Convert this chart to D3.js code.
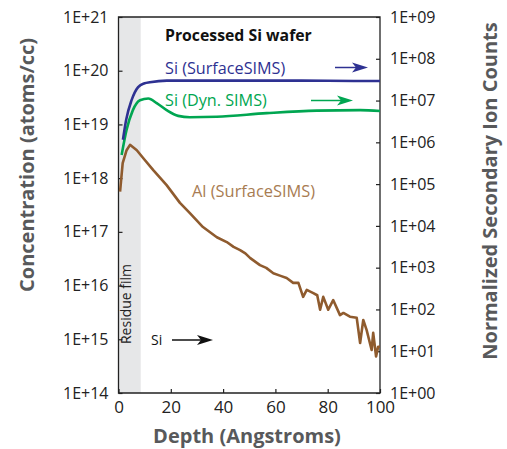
<!DOCTYPE html>
<html>
<head>
<meta charset="utf-8">
<script src="https://cdn.jsdelivr.net/npm/d3@7"></script>
<style>
  body { margin: 0; background: #fff; }
  text { font-family: "Open Sans", Lato, sans-serif; }
</style>
</head>
<body>
<svg width="507" height="449"></svg>
<script>
// ---- data ----
// Si (SurfaceSIMS), right axis (counts)
const siSurfDepth = [1.7, 2.9, 5.0, 7.5, 10, 12, 18.5, 30, 50, 70, 90, 100];
const siSurfCounts = [1.15e6, 3.4e6, 1.02e7, 2.1e7, 2.6e7, 2.75e7, 3.0e7, 3.0e7, 3.0e7, 3.0e7, 2.95e7, 2.95e7];

// Si (Dyn. SIMS), right axis (counts)
const siDynDepth = [1.2, 3.1, 5.5, 8.2, 11.4, 14.6, 18.4, 22.8, 27.3, 37.6, 56.7, 75.8, 92.4, 100];
const siDynCounts = [5.0e5, 2.0e6, 5.9e6, 1.02e7, 1.12e7, 8.7e6, 5.9e6, 4.3e6, 4.0e6, 4.1e6, 5.0e6, 5.75e6, 5.9e6, 5.6e6];

// Al (SurfaceSIMS), left axis (atoms/cc), log10 values
const alDepth = [0.6, 1.6, 3.1, 4.4, 7.0, 9.5, 13.3, 18.4, 23.5, 27.3, 32.3, 37.6, 41.4, 44.0, 46.5, 48.5, 50.4, 54.1, 56.5, 59.2,
  62.0, 64.3, 66.8, 68.8, 70.6, 72.0, 74.5, 76.0, 77.1, 78.3, 80.2, 82.1, 84.7, 86.0, 88.5, 91.1, 92.4, 93.6, 94.9, 96.8, 97.4, 98.5, 99.3, 100];
const alLog = [17.75, 18.28, 18.52, 18.62, 18.52, 18.37, 18.15, 17.87, 17.54, 17.35, 17.09, 16.90, 16.81, 16.72, 16.66, 16.60, 16.51, 16.38, 16.33, 16.23,
  16.18, 16.14, 16.05, 16.05, 15.79, 15.92, 15.86, 15.82, 15.55, 15.79, 15.55, 15.73, 15.45, 15.49, 15.42, 15.40, 14.93, 15.36, 15.17, 14.80, 15.12, 14.68, 14.86, 14.86];

const depthTicks = [0, 20, 40, 60, 80, 100];
const leftExps = [14, 15, 16, 17, 18, 19, 20, 21];
const rightExps = [0, 1, 2, 3, 4, 5, 6, 7, 8, 9];
const residueFilm = [0, 8.5];

// ---- layout ----
const svg = d3.select("svg");
const L = 118.5, R = 380, T = 17, B = 393;

const x = d3.scaleLinear().domain([0, 100]).range([L, R]);
const yL = d3.scaleLog().domain([1e14, 1e21]).range([B, T]);
const yR = d3.scaleLog().domain([1, 1e9]).range([B, T]);

const fmt = e => "1E+" + String(e).padStart(2, "0");

// shaded residue film
svg.append("rect")
  .attr("x", x(residueFilm[0])).attr("y", T)
  .attr("width", x(residueFilm[1]) - x(residueFilm[0])).attr("height", B - T)
  .attr("fill", "#e6e7e8");

svg.append("text")
  .attr("transform", `translate(${x(4.9)},304) rotate(-90)`)
  .attr("text-anchor", "middle")
  .attr("font-size", 14).attr("fill", "#222")
  .text("Residue film");

// frame
svg.append("path")
  .attr("d", `M${L},${T}H${R}V${B}H${L}Z`)
  .attr("fill", "none").attr("stroke", "#222").attr("stroke-width", 1.3);

// axes
const leftAxis = d3.axisLeft(yL).tickValues(leftExps.map(e => Math.pow(10, e)))
  .tickFormat((d, i) => fmt(leftExps[i])).tickSizeInner(-4).tickSizeOuter(0).tickPadding(10);
const rightAxis = d3.axisRight(yR).tickValues(rightExps.map(e => Math.pow(10, e)))
  .tickFormat((d, i) => fmt(rightExps[i])).tickSizeInner(-4).tickSizeOuter(0).tickPadding(10);
const bottomAxis = d3.axisBottom(x).tickValues(depthTicks).tickSizeInner(-4).tickSizeOuter(0).tickPadding(8);

function styleAxis(g) {
  g.select(".domain").remove();
  g.selectAll("line").attr("stroke", "#222").attr("stroke-width", 1.2);
  g.selectAll("text").attr("font-size", 16).attr("fill", "#222")
    .attr("font-family", "\"Open Sans\", Lato, sans-serif");
}
svg.append("g").attr("transform", `translate(${L},0)`).call(leftAxis).call(styleAxis);
svg.append("g").attr("transform", `translate(${R},0)`).call(rightAxis).call(styleAxis);
svg.append("g").attr("transform", `translate(0,${B})`).call(bottomAxis).call(styleAxis)
  .selectAll("text").attr("font-size", 17);

// lines
const lineR = d3.line().x(d => x(d[0])).y(d => yR(d[1])).curve(d3.curveMonotoneX);
const lineAl = d3.line().x(d => x(d[0])).y(d => yL(Math.pow(10, d[1])));

svg.append("path").datum(alDepth.map((d, i) => [d, alLog[i]]))
  .attr("d", lineAl).attr("fill", "none").attr("stroke", "#8f5b2e").attr("stroke-width", 2.6)
  .attr("stroke-linejoin", "round");
svg.append("path").datum(siDynDepth.map((d, i) => [d, siDynCounts[i]]))
  .attr("d", lineR).attr("fill", "none").attr("stroke", "#00a651").attr("stroke-width", 2.6);
svg.append("path").datum(siSurfDepth.map((d, i) => [d, siSurfCounts[i]]))
  .attr("d", lineR).attr("fill", "none").attr("stroke", "#2e3192").attr("stroke-width", 2.6);

// arrows
function arrow(x1, x2, y, color) {
  svg.append("line").attr("x1", x1).attr("x2", x2 - 8).attr("y1", y).attr("y2", y)
    .attr("stroke", color).attr("stroke-width", 1.5);
  svg.append("path")
    .attr("d", `M${x2},${y}L${x2 - 16},${y - 5}L${x2 - 12},${y}L${x2 - 16},${y + 5}Z`)
    .attr("fill", color);
}
arrow(335, 368, 67.5, "#2e3192");
arrow(311, 353, 100.5, "#00a651");
arrow(172, 213, 340, "#111");

// labels
svg.append("text").attr("x", 165).attr("y", 41).attr("font-size", 15.8).attr("font-weight", 700)
  .attr("fill", "#111").text("Processed Si wafer");
svg.append("text").attr("x", 165).attr("y", 74).attr("font-size", 16.2)
  .attr("fill", "#2e3192").text("Si (SurfaceSIMS)");
svg.append("text").attr("x", 165).attr("y", 106).attr("font-size", 16.2)
  .attr("fill", "#00a651").text("Si (Dyn. SIMS)");
svg.append("text").attr("x", 192).attr("y", 197).attr("font-size", 16.4)
  .attr("fill", "#a87c52").text("Al (SurfaceSIMS)");
svg.append("text").attr("x", 151).attr("y", 345).attr("font-size", 14)
  .attr("fill", "#111").text("Si");

// axis titles
svg.append("text")
  .attr("transform", "translate(34,165) rotate(-90)")
  .attr("text-anchor", "middle").attr("font-size", 20).attr("font-weight", 700)
  .attr("fill", "#58595b").text("Concentration (atoms/cc)");
svg.append("text")
  .attr("transform", "translate(497,191) rotate(-90)")
  .attr("text-anchor", "middle").attr("font-size", 20).attr("font-weight", 700)
  .attr("fill", "#58595b").text("Normalized Secondary Ion Counts");
svg.append("text")
  .attr("x", 247).attr("y", 443)
  .attr("text-anchor", "middle").attr("font-size", 20).attr("font-weight", 700)
  .attr("fill", "#58595b").text("Depth (Angstroms)");
</script>
</body>
</html>
